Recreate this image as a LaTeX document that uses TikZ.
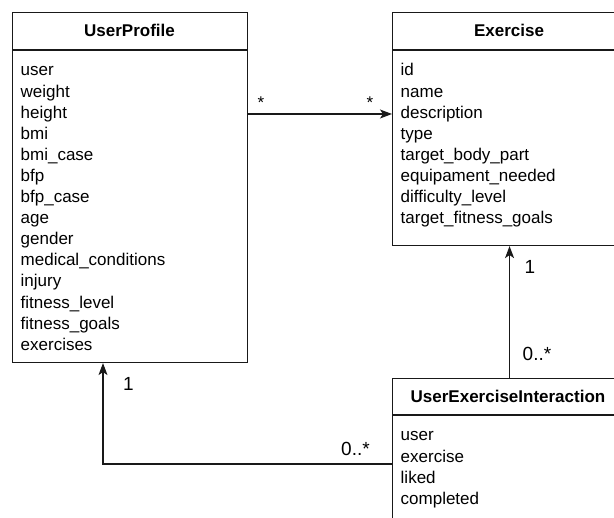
\documentclass[tikz,border=0pt]{standalone}
\usepackage{fontspec}
\setmainfont{Liberation Sans}
\usetikzlibrary{arrows.meta}
\begin{document}
\begin{tikzpicture}[x=1pt,y=-1pt,
  classbox/.style={draw=black!90, line width=1.1pt, fill=white, inner sep=0pt, anchor=north west},
  classtitle/.style={font=\fontsize{17}{20}\selectfont\bfseries, anchor=base, inner sep=0pt},
  attr/.style={font=\fontsize{17}{20}\selectfont, anchor=base west, inner sep=0pt},
  mult/.style={font=\fontsize{19}{22}\selectfont, anchor=base, inner sep=0pt},
  star/.style={font=\fontsize{17}{20}\selectfont, anchor=base, inner sep=0pt},
  assoc/.style={draw=black!90, line width=1.1pt, -{Stealth[length=12pt,width=9pt,inset=3pt]}}]
\useasboundingbox (0,0) rectangle (614,518);
\clip (0,0) rectangle (614,518);

% UserProfile class
\node[classbox, minimum width=235pt, minimum height=350pt] (up) at (12,12) {};
\draw[black!90, line width=1.1pt] ([yshift=-38pt]up.north west) -- ([yshift=-38pt]up.north east);
\node[classtitle] (upt) at (129.5,37) {UserProfile};
\foreach \t [count=\i] in {user,weight,height,bmi,bmi\_case,bfp,bfp\_case,age,gender,medical\_conditions,injury,fitness\_level,fitness\_goals,exercises}
  \node[attr] (up-\i) at (20.5,{76+21.1*(\i-1)}) {\t};

% Exercise class
\node[classbox, minimum width=234pt, minimum height=233pt] (ex) at (392,12) {};
\draw[black!90, line width=1.1pt] ([yshift=-38pt]ex.north west) -- ([yshift=-38pt]ex.north east);
\node[classtitle] (ext) at (509,37) {Exercise};
\foreach \t [count=\i] in {id,name,description,type,target\_body\_part,equipament\_needed,difficulty\_level,target\_fitness\_goals}
  \node[attr] (ex-\i) at (400.5,{76+21.1*(\i-1)}) {\t};

% UserExerciseInteraction class
\node[classbox, minimum width=232pt, minimum height=160pt] (uei) at (392,378) {};
\draw[black!90, line width=1.1pt] ([yshift=-37pt]uei.north west) -- ([yshift=-37pt]uei.north east);
\node[classtitle] (ueit) at (508,403) {UserExerciseInteraction};
\foreach \t [count=\i] in {user,exercise,liked,completed}
  \node[attr] (uei-\i) at (400.5,{441+21.1*(\i-1)}) {\t};

% associations
\draw[assoc] ([yshift=-102pt]up.north east) -- ([yshift=-102pt]ex.north west);
\node[star] (s1) at (261,108.7) {*};
\node[star] (s2) at (370,108.7) {*};

\draw[assoc] (uei.north -| ex.south) -- (ex.south);
\node[mult] (m1) at (530,274) {1};
\node[mult] (m2) at (537,360.5) {0..*};

\draw[assoc] ([yshift=-86pt]uei.north west) -| ([xshift=91pt]up.south west);
\node[mult] (m3) at (128.5,391) {1};
\node[mult] (m4) at (355.5,456) {0..*};
\end{tikzpicture}
\end{document}
